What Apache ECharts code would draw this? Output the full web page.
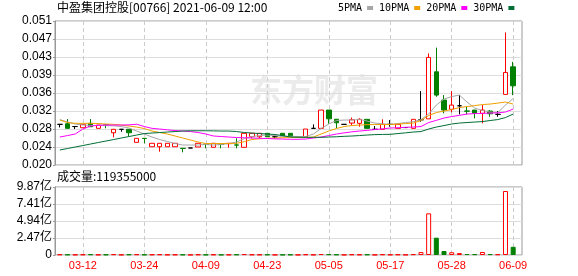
<!DOCTYPE html>
<html><head><meta charset="utf-8">
<script src="https://cdn.jsdelivr.net/npm/echarts@6/dist/echarts.min.js"></script>
<style>html,body{margin:0;padding:0;background:#fff}#c{width:578px;height:276px}</style>
</head><body><div id="c"></div>
<script>
const categories = ['03-09','03-10','03-11','03-12','03-15','03-16','03-17','03-18','03-19','03-22',
 '03-23','03-24','03-25','03-26','03-29','03-30','03-31','04-01','04-08','04-09',
 '04-12','04-13','04-14','04-15','04-16','04-20','04-22','04-23','04-26','04-27',
 '04-28','04-29','04-30','05-03','05-04','05-05','05-06','05-07','05-10','05-11',
 '05-12','05-13','05-14','05-17','05-18','05-20','05-21','05-24','05-25','05-26',
 '05-27','05-28','05-31','06-01','06-02','06-03','06-04','06-07','06-08','06-09'];

const opens = [0.02875,0.02888,0.02828,0.02802,0.02897,0.02789,0.02862,0.02694,0.02768,0.02768,
 0.02488,0.02574,0.02393,0.02393,0.02393,0.02393,0.02360,0.02366,0.02387,0.02447,
 0.02381,0.02447,0.02460,0.02432,0.02381,0.02608,0.02608,0.02682,0.02608,0.02682,
 0.02682,0.02608,0.02608,0.02789,0.02789,0.03183,0.02985,0.02875,0.02903,0.02897,
 0.02983,0.02768,0.02768,0.02875,0.02789,0.02806,0.02789,0.02974,0.02993,0.04006,
 0.03398,0.03200,0.03275,0.03163,0.03183,0.03112,0.03161,0.03090,0.03520,0.04113];
const closes = [0.02875,0.02789,0.02828,0.02875,0.02824,0.02860,0.02858,0.02768,0.02768,0.02694,
 0.02574,0.02570,0.02467,0.02467,0.02467,0.02467,0.02355,0.02366,0.02467,0.02443,
 0.02467,0.02443,0.02467,0.02428,0.02682,0.02682,0.02682,0.02608,0.02608,0.02630,
 0.02608,0.02608,0.02774,0.02789,0.03183,0.02995,0.02909,0.02875,0.02974,0.02983,
 0.02789,0.02768,0.02875,0.02875,0.02875,0.02806,0.02983,0.02974,0.04316,0.03505,
 0.03183,0.03290,0.03275,0.03158,0.03112,0.03183,0.03103,0.03090,0.03993,0.03705];
const lows = [0.02810,0.02789,0.02774,0.02802,0.02824,0.02789,0.02790,0.02596,0.02716,0.02624,
 0.02488,0.02467,0.02393,0.02286,0.02393,0.02393,0.02273,0.02366,0.02387,0.02359,
 0.02381,0.02359,0.02372,0.02359,0.02381,0.02574,0.02574,0.02608,0.02574,0.02630,
 0.02608,0.02608,0.02608,0.02789,0.02789,0.02888,0.02796,0.02875,0.02854,0.02824,
 0.02789,0.02768,0.02768,0.02824,0.02789,0.02806,0.02789,0.02931,0.02993,0.03468,
 0.03112,0.03133,0.03090,0.03090,0.03004,0.02897,0.03038,0.03038,0.03520,0.03505];
const highs = [0.02875,0.02989,0.02828,0.02875,0.02989,0.02860,0.02862,0.02768,0.02768,0.02768,
 0.02574,0.02574,0.02467,0.02467,0.02467,0.02467,0.02360,0.02366,0.02467,0.02447,
 0.02467,0.02447,0.02467,0.02574,0.02682,0.02682,0.02682,0.02682,0.02608,0.02682,
 0.02682,0.02608,0.02774,0.02875,0.03183,0.03183,0.02985,0.02875,0.03021,0.03004,
 0.02983,0.02839,0.02983,0.02968,0.02875,0.02806,0.02983,0.03591,0.04402,0.04526,
 0.03505,0.03591,0.03505,0.03253,0.03183,0.03290,0.03183,0.03161,0.04853,0.04221];

const ma5 = [0.02978,0.02925,0.02882,0.02860,0.02854,0.02849,0.02849,0.02843,0.02828,0.02796,
 0.02731,0.02667,0.02602,0.02548,0.02505,0.02462,0.02430,0.02430,0.02430,0.02441,
 0.02430,0.02441,0.02462,0.02495,0.02570,0.02613,0.02634,0.02645,0.02634,0.02613,
 0.02619,0.02613,0.02613,0.02667,0.02785,0.02882,0.02957,0.02968,0.02968,0.02978,
 0.02946,0.02903,0.02886,0.02875,0.02892,0.02914,0.02931,0.02978,0.03097,0.03290,
 0.03419,0.03473,0.03505,0.03355,0.03226,0.03172,0.03140,0.03129,0.03290,0.03430];
const ma10 = [0.02968,0.02914,0.02897,0.02897,0.02897,0.02892,0.02882,0.02875,0.02860,0.02839,
 0.02817,0.02785,0.02731,0.02699,0.02667,0.02624,0.02581,0.02538,0.02495,0.02462,
 0.02462,0.02462,0.02462,0.02467,0.02501,0.02548,0.02565,0.02574,0.02581,0.02587,
 0.02591,0.02591,0.02591,0.02602,0.02667,0.02731,0.02785,0.02828,0.02849,0.02860,
 0.02869,0.02871,0.02871,0.02873,0.02882,0.02892,0.02903,0.02957,0.03064,0.03129,
 0.03161,0.03193,0.03236,0.03258,0.03279,0.03301,0.03312,0.03333,0.03355,0.03312];
const ma20 = [0.02602,0.02634,0.02667,0.02774,0.02839,0.02854,0.02860,0.02860,0.02860,0.02864,
 0.02877,0.02828,0.02789,0.02774,0.02757,0.02742,0.02731,0.02720,0.02699,0.02667,
 0.02624,0.02613,0.02602,0.02591,0.02587,0.02581,0.02574,0.02570,0.02563,0.02559,
 0.02553,0.02553,0.02559,0.02581,0.02602,0.02634,0.02667,0.02692,0.02714,0.02731,
 0.02746,0.02763,0.02778,0.02796,0.02802,0.02811,0.02817,0.02828,0.02914,0.02961,
 0.03011,0.03043,0.03069,0.03097,0.03107,0.03112,0.03118,0.03122,0.03140,0.03204];
const ma30 = [0.02323,0.02355,0.02387,0.02419,0.02452,0.02484,0.02516,0.02548,0.02581,0.02613,
 0.02645,0.02677,0.02688,0.02699,0.02710,0.02720,0.02731,0.02737,0.02737,0.02737,
 0.02735,0.02731,0.02731,0.02720,0.02699,0.02688,0.02677,0.02667,0.02656,0.02634,
 0.02602,0.02598,0.02596,0.02596,0.02596,0.02602,0.02608,0.02617,0.02624,0.02634,
 0.02645,0.02654,0.02658,0.02660,0.02677,0.02692,0.02710,0.02720,0.02774,0.02817,
 0.02849,0.02882,0.02903,0.02914,0.02925,0.02935,0.02957,0.02978,0.03021,0.03097];

const volumes = [8200000,6500000,5100000,7400000,9800000,4600000,6100000,11200000,3900000,8700000,
 10400000,5600000,7200000,9100000,4800000,6300000,5500000,2400000,8000000,4200000,
 6900000,3800000,5200000,7600000,12500000,6700000,5900000,7100000,3300000,4500000,
 6200000,2800000,9400000,4100000,13800000,10900000,7300000,3600000,8800000,6600000,
 7900000,3400000,9600000,5300000,8100000,4400000,11600000,42000000,605000000,251000000,
 58000000,40000000,28000000,14000000,12000000,44000000,13000000,10000000,929000000,119355000];

const priceAxis = {min: 0.020, max: 0.051, interval: 0.003875};
const volumeAxis = {min: 0, max: 987400000, interval: 246850000};
const seriesNames = ['5PMA', '10PMA', '20PMA', '30PMA'];
const titleText = '中盈集团控股[00766] 2021-06-09 12:00';
const volumeTitle = '成交量:' + volumes[volumes.length - 1];
const watermarkText = '东方财富';

const UP = '#ff0000', DOWN = '#008000';
const maColors = ['#a6a6a6', '#f0a000', '#ff00ff', '#006e35'];
const showIdx = (i) => i % 8 === 3;
const labelFont = '"Liberation Sans", Arial, "Noto Sans CJK SC", sans-serif';

const candleData = categories.map((c, i) => [opens[i], closes[i], lows[i], highs[i]]);
const volData = volumes.map((v, i) => {
  const up = closes[i] >= opens[i];
  return {value: v, itemStyle: up ? {color: '#fff', borderColor: UP, borderWidth: 1} : {color: DOWN, borderColor: DOWN, borderWidth: 1}};
});

const catAxis = (gridIndex, showLabel) => ({
  type: 'category', gridIndex, data: categories, boundaryGap: true,
  axisLine: {show: false}, axisTick: {show: false},
  axisLabel: {show: showLabel, interval: (i) => showIdx(i), color: '#ff0000', fontSize: 11,
    fontFamily: '"Liberation Sans Narrow", "Liberation Sans", Arial, sans-serif', margin: 5},
  splitLine: {show: true, interval: (i) => showIdx(i), alignWithLabel: true,
    lineStyle: {color: '#cccccc', type: [4, 3], width: 1}}
});
const hiddenY = (gridIndex, ax) => ({type: 'value', gridIndex, min: ax.min, max: ax.max, show: false, splitLine: {show: false}});
const frameY = (gridIndex, ax, fmt) => ({
  type: 'value', gridIndex, min: ax.min, max: ax.max, interval: ax.interval,
  axisLine: {show: true, lineStyle: {color: '#999'}},
  axisTick: {show: true, length: 2, lineStyle: {color: '#999'}},
  axisLabel: {margin: 3, color: '#000', fontSize: 12, fontFamily: labelFont, formatter: fmt},
  splitLine: {show: true, lineStyle: {color: '#dddddd', width: 1}}
});

const chart = echarts.init(document.getElementById('c'), null, {renderer: 'canvas', width: 578, height: 276});
const option = {
  animation: false,
  backgroundColor: '#fff',
  legend: {
    left: 338, top: 3, padding: 0, itemWidth: 6, itemHeight: 4, itemGap: 6, align: 'right', icon: 'rect',
    textStyle: {fontFamily: '"DejaVu Sans Mono", monospace', fontSize: 10, color: '#000'},
    data: seriesNames
  },
  graphic: [
    {type: 'text', left: 250, top: 74, z: -10, silent: true,
     style: {text: watermarkText, font: 'bold 32px "Noto Sans CJK SC"', fill: '#ebebeb'}},
    {type: 'text', left: 57, top: 1, style: {text: titleText, font: '12px "Noto Sans CJK SC"', fill: '#000'}},
    {type: 'text', left: 57, top: 170, style: {text: volumeTitle, font: '12px "Noto Sans CJK SC"', fill: '#000'}}
  ],
  grid: [
    {left: 56, top: 21, width: 461, height: 144, show: false},
    {left: 56, top: 187, width: 461, height: 68, show: false},
    {left: 55, top: 21, width: 467, height: 144, show: true, borderColor: '#999', borderWidth: 1, backgroundColor: 'transparent'},
    {left: 55, top: 187, width: 467, height: 68, show: true, borderColor: '#999', borderWidth: 1, backgroundColor: 'transparent'}
  ],
  xAxis: [
    catAxis(0, false),
    catAxis(1, true),
    {type: 'value', gridIndex: 2, min: 0, max: 1, show: false},
    {type: 'value', gridIndex: 3, min: 0, max: 1, show: false}
  ],
  yAxis: [
    hiddenY(0, priceAxis),
    hiddenY(1, volumeAxis),
    frameY(2, priceAxis, (v) => (Math.round(v * 1000 + 1e-6) / 1000).toFixed(3)),
    frameY(3, volumeAxis, (v) => v === 0 ? '0' : (Math.round(v / 1e6) / 100).toFixed(2) + '亿')
  ],
  series: [
    {type: 'candlestick', name: 'K', xAxisIndex: 0, yAxisIndex: 0, barWidth: 5, z: 2,
     itemStyle: {color: '#ffffff', color0: DOWN, borderColor: UP, borderColor0: DOWN, borderColorDoji: '#000000', borderWidth: 1},
     data: candleData},
    ...[ma5, ma10, ma20, ma30].map((d, k) => ({
      type: 'line', name: seriesNames[k], xAxisIndex: 0, yAxisIndex: 0, data: d, z: 3,
      symbol: 'none', smooth: false, color: maColors[k],
      lineStyle: {color: maColors[k], width: 1}
    })),
    {type: 'bar', name: 'VOL', xAxisIndex: 1, yAxisIndex: 1, barWidth: 5, data: volData}
  ]
};
chart.setOption(option);
</script></body></html>
